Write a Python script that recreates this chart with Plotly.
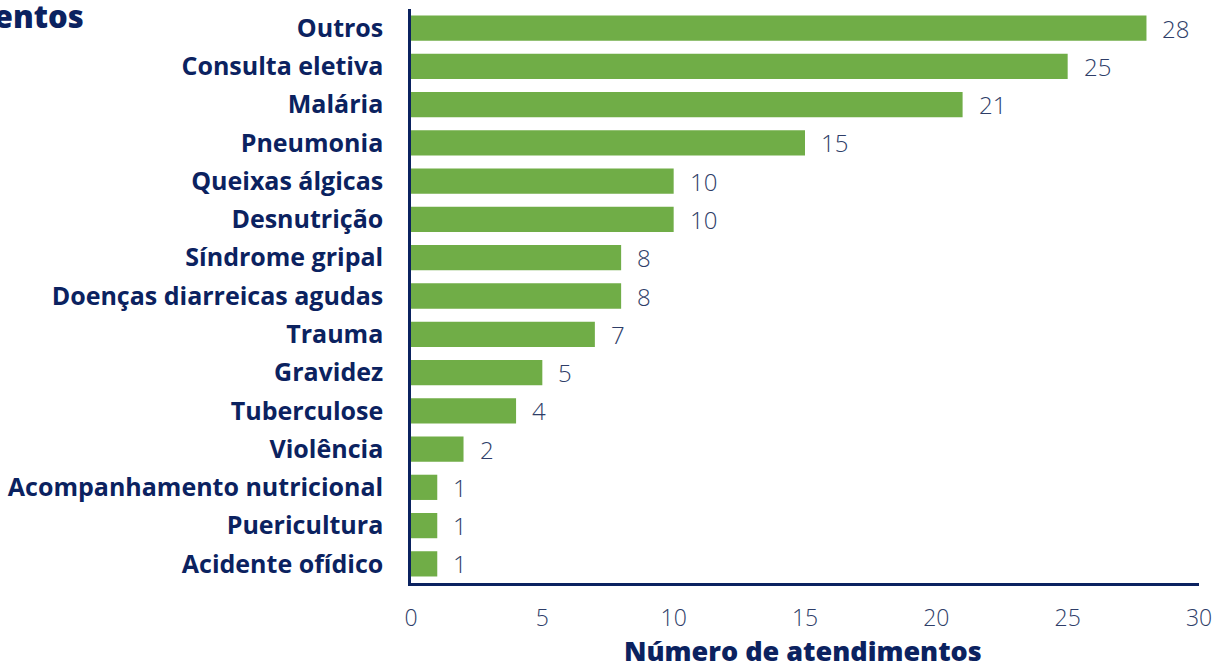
import plotly.graph_objects as go

categories = ["Outros", "Consulta eletiva", "Malária", "Pneumonia", "Queixas álgicas",
              "Desnutrição", "Síndrome gripal", "Doenças diarreicas agudas", "Trauma",
              "Gravidez", "Tuberculose", "Violência", "Acompanhamento nutricional",
              "Puericultura", "Acidente ofídico"]
values = [28, 25, 21, 15, 10, 10, 8, 8, 7, 5, 4, 2, 1, 1, 1]
x_ticks = [0, 5, 10, 15, 20, 25, 30]

NAVY = "#0b2260"
GREEN = "#70ad47"
LABEL = "#2e3d68"
FONT = "Open Sans"

fig = go.Figure()
fig.add_trace(go.Bar(
    y=categories, x=values, orientation="h",
    marker=dict(color=GREEN, line=dict(width=0)),
    hoverinfo="skip",
))

for c, v in zip(categories, values):
    fig.add_annotation(x=v, y=c, text=str(v), showarrow=False, xanchor="left",
                       xshift=14, font=dict(family=FONT, size=24, color=LABEL, weight=300))

# chart title, partially off the left edge as in the reference
fig.add_annotation(xref="paper", yref="paper", x=-0.412, y=1.0, xanchor="right", yanchor="middle",
                   text="Atendimentos", showarrow=False,
                   font=dict(family=FONT, size=31, color=NAVY, weight=800), yshift=-7)

# x-axis title
fig.add_annotation(xref="paper", yref="paper", x=0.497, y=0.0, xanchor="center", yanchor="middle",
                   text="Número de atendimentos", showarrow=False,
                   font=dict(family=FONT, size=27, color=NAVY, weight=800), yshift=-67)

fig.update_layout(
    width=1216, height=662,
    margin=dict(l=411, r=17, t=9, b=79),
    paper_bgcolor="white", plot_bgcolor="white",
    bargap=0.34,
    showlegend=False,
    xaxis=dict(range=[0, 30], tickvals=x_ticks, showgrid=False, zeroline=False,
               showline=True, linecolor=NAVY, linewidth=2.5, ticks="",
               automargin=False, ticklabelstandoff=13,
               tickfont=dict(family=FONT, size=23, color=LABEL, weight=300),
               fixedrange=True),
    yaxis=dict(autorange="reversed", showgrid=False, zeroline=False,
               showline=True, linecolor=NAVY, linewidth=2.5, ticks="",
               automargin=False, ticklabelstandoff=20,
               tickfont=dict(family=FONT, size=25, color=NAVY, weight="bold"),
               fixedrange=True),
)

fig.write_html("out.html", config={"displayModeBar": False},
               post_script="document.body.style.margin='0';document.body.style.overflow='hidden';")
